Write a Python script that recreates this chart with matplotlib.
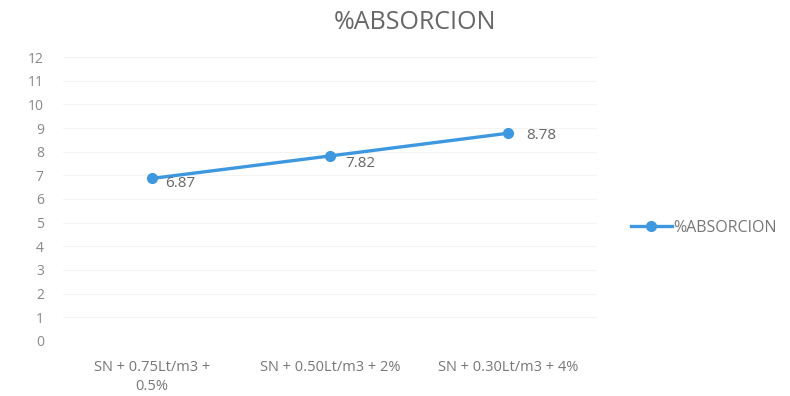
import matplotlib.pyplot as plt

# Datos del gráfico
categorias = ['SN + 0.75Lt/m3 +\n0.5%', 'SN + 0.50Lt/m3 + 2%', 'SN + 0.30Lt/m3 + 4%']
absorcion = [6.87, 7.82, 8.78]
yticks = list(range(0, 13))

plt.rcParams['font.family'] = ['Open Sans', 'DejaVu Sans']

fig = plt.figure(figsize=(7.9, 3.96), dpi=100)
ax = fig.add_axes([0.08, 0.139, 0.676, 0.717])

x = list(range(len(categorias)))
linea, = ax.plot(x, absorcion, color='#3d98e0', lw=2.4, marker='o', ms=7,
                 label='%ABSORCION')

# Etiquetas de datos
desplaz = [(0.07, -0.2), (0.085, -0.3), (0.1, -0.1)]
for xi, v, (dx, dy) in zip(x, absorcion, desplaz):
    ax.text(xi + dx, v + dy, f'{v:.2f}', fontsize=11, color='#666666',
            va='center', ha='left')

ax.set_xlim(-0.5, 2.5)
ax.set_ylim(0, 12)
ax.set_yticks(yticks)
ax.set_xticks(x)
ax.set_xticklabels(categorias, fontsize=10.5, color='#777777', linespacing=1.3)
ax.tick_params(axis='y', labelsize=10, labelcolor='#888888', length=0, pad=14)
ax.tick_params(axis='x', length=0, pad=14)
ax.grid(axis='y', color='#f4f4f4', lw=0.8)
for s in ax.spines.values():
    s.set_visible(False)

fig.suptitle('%ABSORCION', x=0.525, y=0.975, fontsize=18, color='#666666')

fig.legend(handles=[linea], loc='center left', bbox_to_anchor=(0.78, 0.425),
           frameon=False, labelcolor='#777777', handlelength=2.6,
           handletextpad=0.1, prop={'size': 11.5})

fig.savefig('out.png', dpi=100)
